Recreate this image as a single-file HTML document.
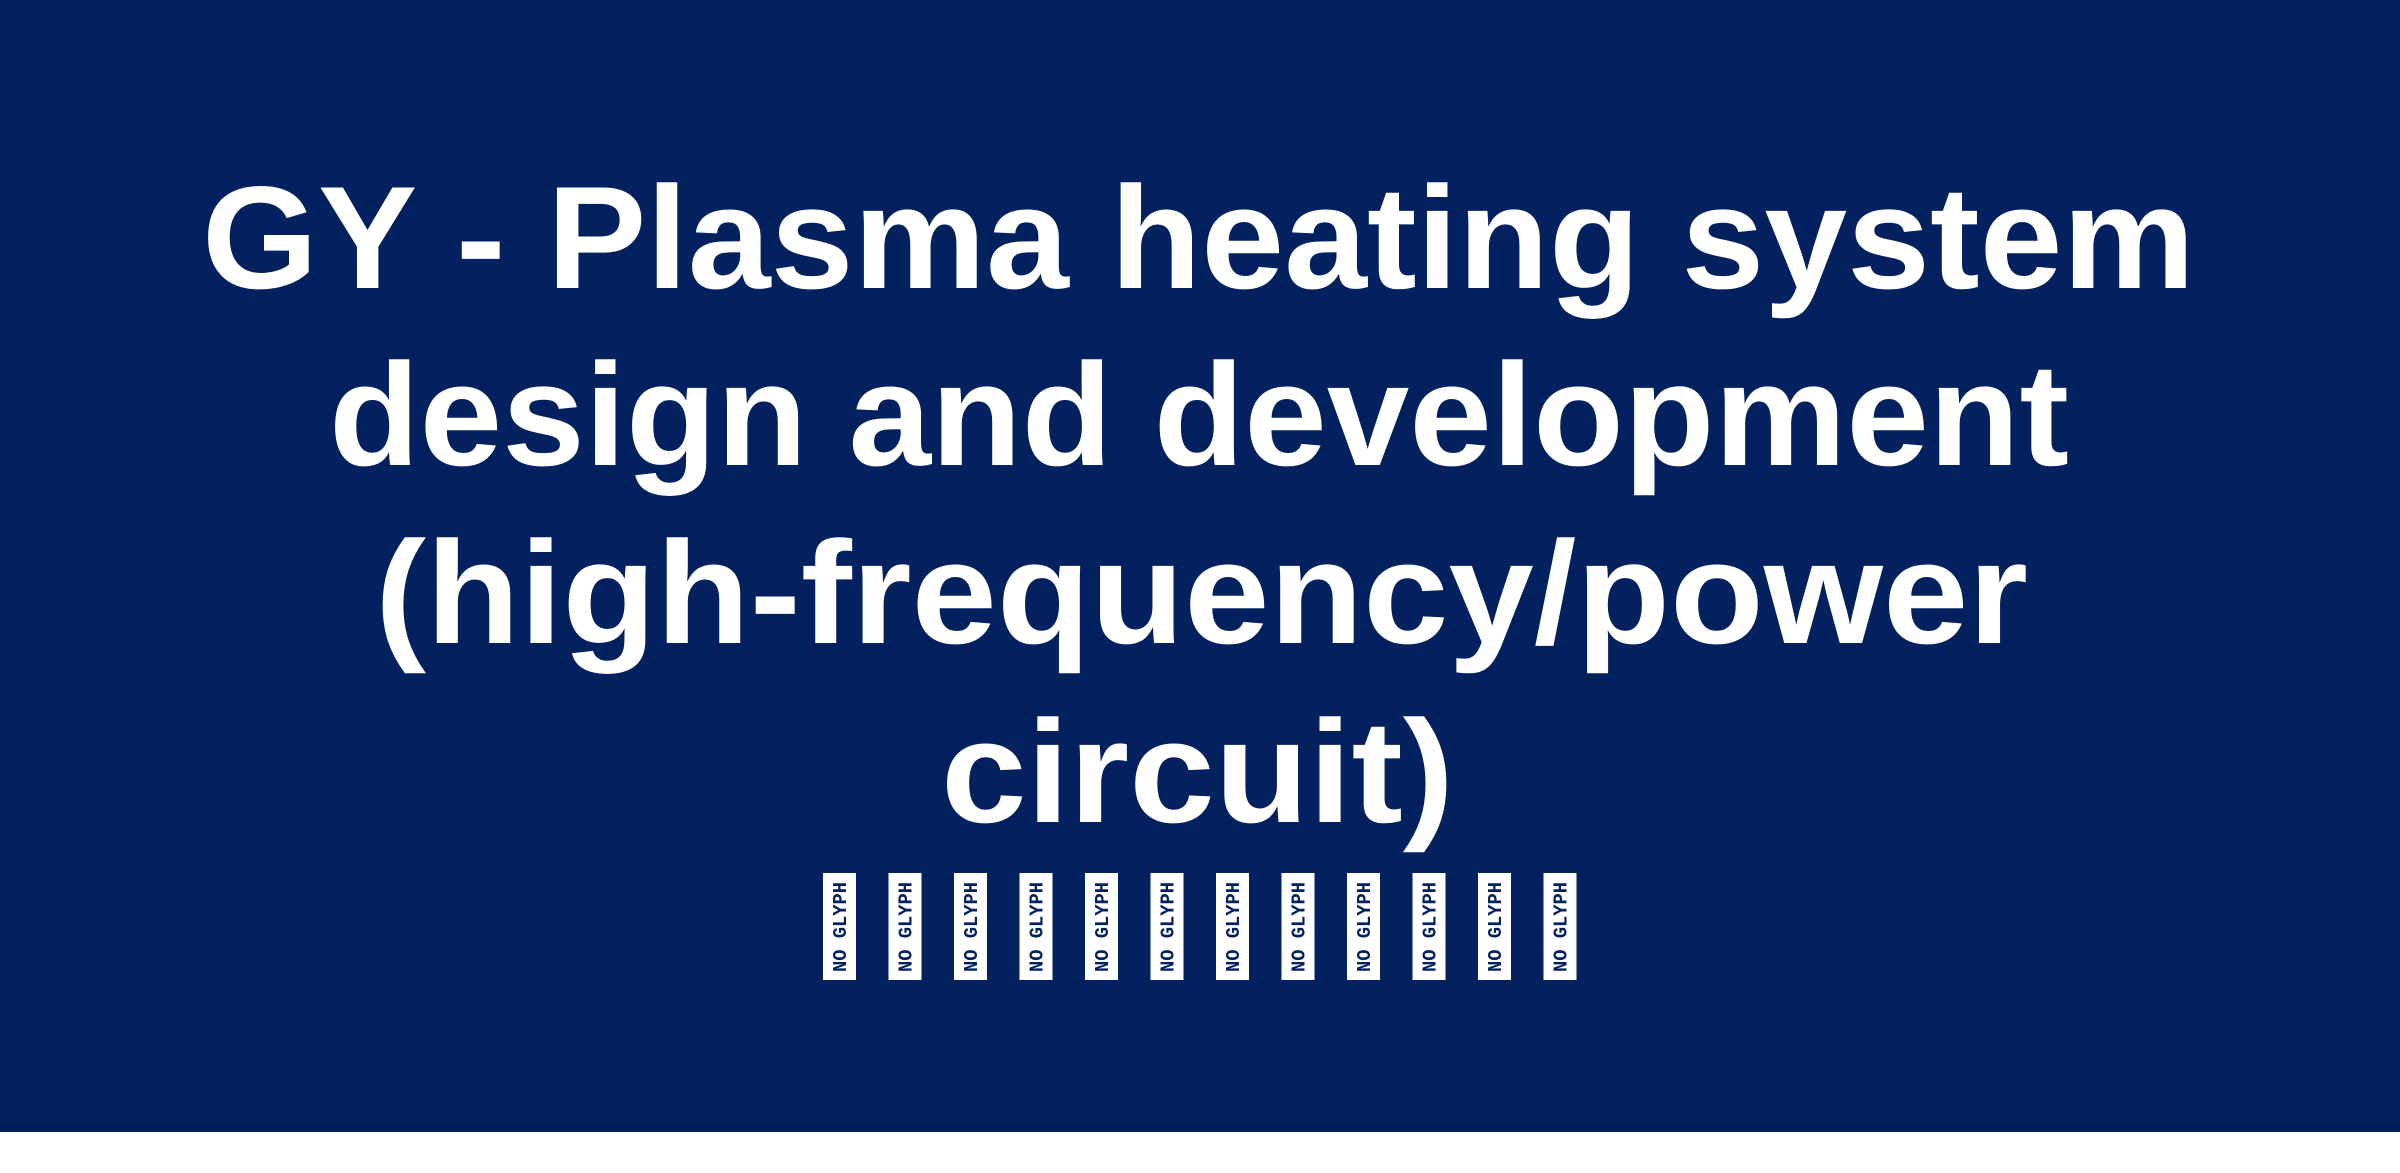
<!DOCTYPE html>
<html><head><meta charset="utf-8"><style>
html,body{margin:0;padding:0;width:2400px;height:1173px;background:#fff;overflow:hidden}
svg{display:block}
</style></head><body>
<svg width="2400" height="1173" xmlns="http://www.w3.org/2000/svg">
<rect x="0" y="0" width="2400" height="1132" fill="#03205f"/>
<rect x="0" y="1124" width="2400" height="8" fill="#011c59"/>
<g font-family="Liberation Sans, Arial, sans-serif" font-weight="bold" font-size="146" fill="#fff">
<text x="202" y="288" textLength="1993" lengthAdjust="spacingAndGlyphs">GY - Plasma heating system</text>
<text x="329" y="465" textLength="1740" lengthAdjust="spacingAndGlyphs">design and development</text>
<text x="375" y="643" textLength="1653" lengthAdjust="spacingAndGlyphs">(high-frequency/power</text>
<text x="941" y="822" textLength="513" lengthAdjust="spacingAndGlyphs">circuit)</text>
</g>
<g fill="#fff">
<rect x="823" y="873" width="33" height="107"/><rect x="888.5" y="873" width="33" height="107"/>
<rect x="954" y="873" width="33" height="107"/><rect x="1019.5" y="873" width="33" height="107"/>
<rect x="1085" y="873" width="33" height="107"/><rect x="1150.5" y="873" width="33" height="107"/>
<rect x="1216" y="873" width="33" height="107"/><rect x="1281.5" y="873" width="33" height="107"/>
<rect x="1347" y="873" width="33" height="107"/><rect x="1412.5" y="873" width="33" height="107"/>
<rect x="1478" y="873" width="33" height="107"/><rect x="1543.5" y="873" width="33" height="107"/>
</g>
<g font-family="Liberation Mono, monospace" font-weight="bold" font-size="19" fill="#03205f">
<text transform="translate(846,972) rotate(-90)" textLength="90" lengthAdjust="spacingAndGlyphs">NO GLYPH</text>
<text transform="translate(911.5,972) rotate(-90)" textLength="90" lengthAdjust="spacingAndGlyphs">NO GLYPH</text>
<text transform="translate(977,972) rotate(-90)" textLength="90" lengthAdjust="spacingAndGlyphs">NO GLYPH</text>
<text transform="translate(1042.5,972) rotate(-90)" textLength="90" lengthAdjust="spacingAndGlyphs">NO GLYPH</text>
<text transform="translate(1108,972) rotate(-90)" textLength="90" lengthAdjust="spacingAndGlyphs">NO GLYPH</text>
<text transform="translate(1173.5,972) rotate(-90)" textLength="90" lengthAdjust="spacingAndGlyphs">NO GLYPH</text>
<text transform="translate(1239,972) rotate(-90)" textLength="90" lengthAdjust="spacingAndGlyphs">NO GLYPH</text>
<text transform="translate(1304.5,972) rotate(-90)" textLength="90" lengthAdjust="spacingAndGlyphs">NO GLYPH</text>
<text transform="translate(1370,972) rotate(-90)" textLength="90" lengthAdjust="spacingAndGlyphs">NO GLYPH</text>
<text transform="translate(1435.5,972) rotate(-90)" textLength="90" lengthAdjust="spacingAndGlyphs">NO GLYPH</text>
<text transform="translate(1501,972) rotate(-90)" textLength="90" lengthAdjust="spacingAndGlyphs">NO GLYPH</text>
<text transform="translate(1566.5,972) rotate(-90)" textLength="90" lengthAdjust="spacingAndGlyphs">NO GLYPH</text>
</g>
</svg>
</body></html>
